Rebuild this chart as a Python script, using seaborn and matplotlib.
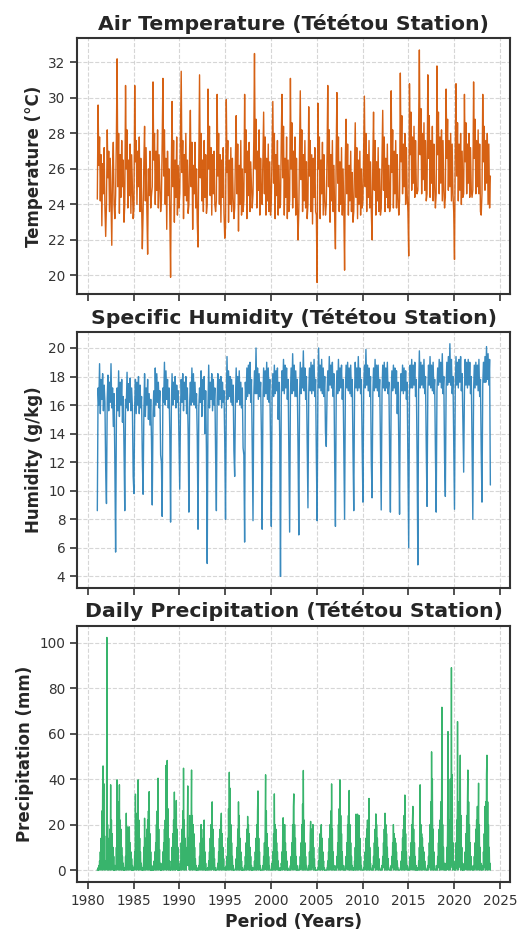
import matplotlib
matplotlib.use("Agg")
import matplotlib.pyplot as plt
import matplotlib.dates as mdates
from matplotlib.ticker import MultipleLocator
import seaborn as sns
import pandas as pd

# ---------------- data ----------------
first_year = 1981
n_years = 43

# Air temperature (°C), 12 values per year (Jan..Dec)
temp_c = [
    24.3, 29.6, 26.2, 27.8, 24.2, 26.8, 22.8, 26.3, 24.6, 27.2, 23.8, 22.2,
    24.0, 28.2, 25.5, 27.0, 23.6, 26.6, 24.2, 21.7, 26.0, 27.5, 24.0, 23.2,
    24.5, 27.8, 32.2, 25.0, 28.0, 23.5, 26.8, 24.4, 27.6, 25.0, 26.5, 23.0,
    24.0, 30.7, 26.0, 28.2, 23.8, 26.5, 24.5, 27.4, 23.5, 26.8, 25.0, 23.2,
    23.8, 30.7, 26.4, 27.6, 24.0, 27.0, 25.0, 27.8, 23.6, 26.6, 24.2, 21.5,
    23.5, 26.5, 28.4, 24.2, 27.2, 23.6, 21.2, 26.0, 24.5, 27.0, 23.8, 24.5,
    25.0, 30.9, 26.5, 28.0, 24.0, 27.0, 24.8, 28.2, 23.8, 26.8, 25.2, 23.6,
    24.2, 27.5, 31.1, 25.6, 28.2, 24.0, 26.6, 22.6, 27.0, 24.5, 26.0, 23.4,
    19.9, 26.0, 29.8, 25.0, 27.6, 23.0, 26.5, 24.4, 27.8, 23.4, 26.2, 23.8,
    24.6, 28.0, 31.5, 25.8, 27.6, 23.2, 26.8, 24.5, 28.0, 24.2, 26.5, 23.5,
    24.0, 27.2, 29.3, 25.0, 27.5, 22.6, 26.2, 24.6, 27.5, 23.8, 26.0, 23.0,
    21.6, 26.5, 31.3, 25.5, 28.0, 24.2, 26.5, 23.6, 27.6, 24.4, 26.8, 23.5,
    24.0, 30.5, 26.0, 28.4, 24.5, 27.2, 23.4, 26.8, 24.6, 27.0, 24.0, 23.6,
    24.2, 30.2, 25.6, 28.0, 24.0, 26.8, 23.0, 26.5, 24.4, 27.2, 23.5, 22.1,
    22.7, 29.9, 25.8, 27.6, 23.0, 26.5, 24.0, 27.2, 23.6, 26.6, 24.4, 23.2,
    23.8, 26.8, 29.0, 24.6, 27.4, 22.5, 26.2, 24.0, 27.6, 23.4, 26.0, 23.6,
    24.2, 30.2, 25.8, 28.2, 23.2, 27.0, 24.5, 27.5, 23.6, 26.4, 25.0, 23.8,
    24.6, 27.6, 32.5, 26.0, 28.8, 23.8, 27.0, 24.8, 28.2, 23.4, 26.6, 24.2,
    24.0, 26.8, 29.2, 24.6, 27.8, 23.4, 26.6, 24.2, 27.4, 23.6, 26.4, 23.4,
    24.2, 27.0, 29.8, 25.2, 28.0, 23.2, 26.8, 24.5, 27.6, 23.4, 26.2, 23.8,
    24.0, 27.6, 30.2, 25.5, 28.4, 23.4, 26.6, 24.4, 27.8, 23.2, 26.5, 23.6,
    24.2, 31.1, 26.0, 28.6, 23.8, 27.0, 24.4, 27.8, 23.4, 26.6, 24.0, 22.0,
    23.6, 27.0, 30.4, 25.4, 28.2, 23.6, 26.8, 24.2, 27.6, 23.8, 26.4, 23.2,
    24.0, 29.5, 25.6, 27.6, 23.6, 26.8, 22.9, 26.6, 24.4, 27.2, 23.6, 23.4,
    19.6, 29.7, 26.0, 27.8, 23.2, 26.5, 24.6, 27.5, 23.4, 26.8, 24.2, 23.4,
    24.0, 26.8, 30.7, 25.0, 28.2, 23.0, 26.8, 24.2, 27.6, 23.6, 26.2, 23.4,
    21.5, 27.0, 30.3, 25.2, 27.8, 23.6, 26.4, 24.0, 27.2, 23.4, 26.0, 23.6,
    20.3, 26.6, 28.8, 24.6, 27.4, 23.4, 26.2, 24.2, 27.0, 23.6, 25.8, 23.0,
    23.6, 26.4, 28.6, 24.4, 27.2, 23.2, 26.5, 24.0, 27.0, 23.4, 26.0, 23.8,
    24.2, 27.2, 30.1, 25.0, 28.0, 23.6, 26.8, 24.4, 27.6, 23.8, 26.4, 23.6,
    22.0, 26.6, 29.2, 24.8, 27.6, 23.4, 26.4, 24.2, 27.2, 23.6, 26.0, 23.4,
    23.8, 26.8, 29.3, 24.8, 27.8, 23.6, 26.6, 24.4, 27.4, 23.8, 26.2, 23.6,
    24.0, 30.4, 25.8, 28.2, 23.8, 27.0, 24.6, 27.6, 23.8, 26.8, 24.4, 23.4,
    24.2, 31.4, 26.4, 29.0, 24.6, 27.4, 25.0, 28.0, 24.0, 27.2, 24.6, 23.6,
    21.1, 30.8, 26.8, 29.2, 24.8, 27.8, 25.2, 28.4, 24.4, 27.6, 25.0, 24.6,
    24.8, 28.4, 32.7, 26.8, 29.4, 24.6, 28.0, 25.4, 28.6, 24.8, 27.6, 24.2,
    24.6, 31.3, 26.6, 29.0, 24.4, 27.6, 25.2, 28.4, 24.2, 27.4, 25.0, 23.8,
    24.6, 31.8, 26.8, 29.2, 24.6, 27.8, 25.2, 28.2, 24.2, 27.6, 24.8, 23.8,
    24.4, 30.5, 26.6, 28.8, 24.8, 27.6, 25.0, 28.0, 24.2, 27.4, 24.6, 23.6,
    20.9, 27.0, 30.8, 25.6, 28.6, 24.2, 27.4, 24.8, 28.0, 24.0, 27.0, 24.4,
    24.6, 30.2, 26.4, 28.6, 24.6, 27.4, 25.2, 28.0, 24.4, 27.2, 24.8, 24.4,
    24.8, 30.9, 26.6, 28.8, 24.6, 27.6, 25.0, 28.2, 24.6, 27.4, 23.6, 23.4,
    24.6, 30.2, 26.4, 28.4, 24.8, 27.6, 25.2, 28.0, 24.0, 27.4, 23.8, 25.6,
]

# Specific humidity (g/kg), 12 values per year (Jan..Dec)
humidity_gkg = [
    8.6, 17.2, 16.0, 18.9, 15.4, 17.8, 16.4, 18.2, 15.6, 17.4, 16.2, 11.5,
    9.1, 16.5, 18.1, 15.6, 17.6, 16.2, 18.9, 15.8, 17.2, 14.5, 16.8, 12.0,
    5.7, 15.0, 17.2, 15.6, 18.4, 15.2, 17.6, 16.0, 17.8, 14.8, 16.6, 13.0,
    8.6, 16.4, 15.8, 18.3, 15.6, 17.5, 16.2, 17.9, 15.6, 17.2, 15.8, 11.0,
    9.8, 16.0, 17.8, 15.4, 17.6, 16.0, 18.0, 15.4, 17.4, 15.8, 16.6, 12.2,
    9.75, 15.6, 18.2, 15.2, 17.2, 16.0, 17.8, 15.0, 16.8, 14.6, 16.4, 13.6,
    9.0, 15.4, 17.0, 15.2, 18.6, 16.0, 18.2, 16.2, 17.6, 15.8, 17.0, 12.5,
    12.0, 8.2, 17.2, 16.2, 19.0, 16.0, 18.4, 16.4, 17.8, 15.8, 17.2, 14.0,
    7.8, 16.0, 18.2, 16.0, 17.6, 16.4, 18.0, 15.8, 17.4, 16.2, 17.0, 13.5,
    10.1, 15.8, 17.8, 16.2, 18.2, 15.6, 17.6, 16.4, 18.0, 15.4, 17.2, 14.2,
    8.5, 16.2, 17.6, 16.0, 18.6, 16.2, 18.2, 16.0, 17.6, 15.8, 16.8, 13.8,
    7.3, 15.8, 17.2, 16.2, 18.4, 15.2, 17.8, 16.4, 18.0, 14.0, 17.0, 12.8,
    4.9, 16.0, 18.8, 15.8, 17.6, 16.4, 18.2, 15.6, 17.8, 16.0, 17.2, 12.6,
    8.6, 16.4, 18.2, 16.0, 17.8, 16.4, 18.0, 15.8, 17.6, 16.2, 17.0, 13.4,
    8.0, 16.2, 19.4, 16.4, 18.4, 16.6, 18.0, 16.2, 17.8, 16.0, 17.4, 12.8,
    11.0, 16.4, 18.6, 16.2, 18.0, 16.4, 18.4, 16.0, 17.6, 15.8, 17.2, 13.0,
    12.5, 6.4, 17.6, 16.4, 18.6, 16.6, 18.8, 16.8, 19.0, 16.2, 17.8, 13.2,
    7.9, 16.6, 18.4, 16.8, 20.0, 16.8, 18.6, 16.4, 18.2, 16.6, 17.6, 14.0,
    7.3, 16.4, 18.6, 16.6, 18.4, 16.8, 19.0, 16.4, 18.6, 16.2, 17.8, 13.4,
    7.5, 16.8, 18.2, 16.6, 18.8, 16.8, 18.4, 17.0, 18.6, 15.0, 17.6, 13.8,
    4.0, 16.6, 18.4, 17.0, 19.2, 16.8, 18.8, 17.2, 18.6, 16.4, 17.8, 12.6,
    7.1, 16.8, 18.6, 16.8, 19.6, 17.0, 18.8, 16.6, 18.4, 16.6, 17.8, 13.0,
    6.9, 16.6, 19.0, 16.8, 18.6, 17.2, 19.8, 17.0, 18.6, 16.4, 18.0, 13.6,
    8.8, 16.8, 18.6, 17.0, 19.0, 16.8, 18.8, 17.0, 19.2, 16.6, 17.8, 12.4,
    7.9, 17.0, 20.0, 17.2, 18.8, 17.0, 19.2, 16.8, 18.6, 16.6, 18.0, 14.0,
    13.1, 16.8, 18.4, 17.0, 19.4, 17.4, 18.8, 17.2, 19.0, 16.6, 18.2, 12.2,
    7.5, 16.6, 18.4, 16.8, 19.2, 17.0, 18.6, 17.2, 18.8, 16.4, 17.8, 13.0,
    8.0, 17.0, 18.8, 17.2, 19.0, 17.0, 18.6, 16.8, 18.8, 16.6, 17.8, 12.8,
    8.6, 16.8, 19.0, 17.2, 18.6, 17.0, 19.4, 17.2, 18.6, 16.8, 17.8, 13.2,
    9.2, 17.0, 18.8, 17.2, 19.9, 17.4, 18.8, 17.0, 18.6, 16.6, 18.0, 12.0,
    9.5, 16.8, 18.6, 17.0, 19.2, 17.2, 18.8, 17.0, 18.8, 16.6, 17.8, 13.6,
    8.65, 16.8, 18.8, 17.2, 19.0, 17.0, 18.6, 17.2, 19.0, 16.8, 17.6, 12.6,
    8.5, 16.8, 18.4, 17.0, 18.8, 17.2, 18.6, 16.8, 18.4, 15.4, 17.6, 13.4,
    8.35, 16.6, 18.2, 17.0, 18.8, 16.8, 18.6, 17.0, 18.4, 16.4, 17.6, 11.6,
    6.0, 16.8, 18.8, 17.2, 19.2, 17.2, 18.8, 17.4, 19.0, 16.6, 17.8, 12.4,
    4.8, 17.0, 19.8, 17.2, 19.0, 17.4, 18.8, 17.2, 19.2, 16.8, 18.0, 13.0,
    8.9, 17.0, 18.8, 17.4, 19.4, 17.2, 18.8, 17.0, 19.0, 16.8, 17.8, 12.8,
    8.5, 17.0, 18.6, 17.4, 19.2, 17.6, 19.0, 17.2, 19.6, 16.8, 18.0, 12.2,
    9.6, 17.2, 19.0, 17.4, 19.4, 17.6, 20.3, 17.4, 19.2, 16.8, 18.0, 13.4,
    8.7, 17.2, 19.4, 17.4, 19.0, 17.2, 19.2, 17.6, 19.4, 17.0, 18.2, 14.6,
    11.3, 17.0, 19.2, 17.4, 19.0, 17.2, 19.2, 17.4, 19.0, 16.8, 18.0, 13.2,
    8.0, 17.0, 18.8, 17.2, 19.0, 17.4, 18.8, 17.0, 19.2, 16.6, 17.8, 12.8,
    9.2, 17.4, 19.0, 17.6, 19.4, 17.6, 20.1, 17.8, 19.6, 17.4, 19.2, 10.4,
]

# Daily precipitation (mm), 24 values per year (half-months)
precip_mm = [
    0, 0, 0, 1, 0, 2, 0, 4, 1, 8, 0, 14, 2, 26, 0, 35, 45.8, 3, 38, 0, 15, 1, 4, 0,
    2, 4, 102.3, 0, 20, 1, 12, 0, 14, 2, 18, 0, 37.5, 1, 22, 0, 16, 2, 10, 0, 6, 0, 2, 0,
    0, 2, 1, 10, 0, 39.7, 1, 24, 0, 30, 2, 37.5, 0, 22, 1, 18, 0, 10, 2, 6, 0, 3, 0, 1,
    0, 1, 0, 6, 1, 25, 0, 12, 2, 19, 0, 17, 1, 19, 0, 12, 2, 8, 0, 5, 0, 2, 0, 1,
    0, 1, 2, 8, 0, 33.4, 1, 20, 0, 25, 2, 18, 39.7, 0, 22, 1, 14, 0, 8, 2, 3, 0, 1, 0,
    1, 0, 3, 10, 0, 22.8, 1, 14, 0, 12, 2, 18, 0, 22, 1, 26, 0, 34.5, 2, 16, 0, 8, 0, 2,
    0, 0, 1, 0, 2, 0, 4, 1, 8, 0, 12, 2, 20, 0, 26, 1, 40.4, 0, 18, 2, 9, 0, 3, 0,
    0, 1, 0, 3, 1, 8, 0, 12, 2, 18, 0, 22, 1, 46, 0, 30, 48.2, 2, 27, 0, 14, 1, 4, 0,
    0, 1, 0, 4, 1, 10, 0, 16, 2, 22, 0, 34.3, 1, 20, 0, 16, 30.6, 2, 18, 0, 10, 0, 3, 0,
    0, 1, 0, 4, 1, 12, 0, 18, 2, 26, 0, 44.8, 1, 22, 0, 14, 2, 10, 0, 8, 2, 18, 37, 6,
    2, 14, 0, 24, 1, 22, 0, 18, 44, 2, 24, 0, 20, 1, 16, 0, 10, 2, 5, 0, 2, 0, 1, 0,
    0, 0, 1, 2, 0, 6, 1, 12, 0, 20, 2, 14, 0, 10, 1, 18, 0, 22, 2, 8, 0, 3, 0, 0,
    0, 0, 1, 1, 0, 4, 1, 8, 0, 14, 2, 20, 0, 24, 30, 1, 18, 0, 10, 2, 5, 0, 1, 0,
    0, 0, 0, 1, 1, 3, 0, 8, 2, 14, 0, 18, 1, 20, 25, 0, 16, 2, 10, 0, 5, 1, 1, 0,
    0, 0, 1, 2, 0, 6, 2, 14, 0, 27, 1, 43, 0, 36, 2, 20, 0, 12, 1, 6, 0, 2, 0, 0,
    0, 0, 0, 1, 1, 5, 0, 10, 2, 18, 0, 30, 1, 24, 0, 14, 2, 8, 0, 4, 0, 1, 0, 0,
    0, 0, 1, 2, 0, 6, 1, 12, 0, 18, 2, 23.6, 0, 20, 1, 16, 0, 10, 2, 6, 0, 2, 0, 1,
    0, 0, 0, 1, 1, 4, 0, 8, 2, 14, 0, 20, 1, 26, 34.8, 0, 14, 2, 8, 0, 2, 0, 0, 0,
    0, 0, 1, 2, 0, 6, 2, 12, 0, 20, 41.9, 1, 26, 0, 16, 2, 10, 0, 6, 1, 2, 0, 0, 0,
    0, 0, 1, 3, 0, 8, 2, 16, 0, 33.5, 1, 20, 0, 18, 2, 12, 0, 8, 1, 4, 0, 1, 0, 0,
    0, 1, 0, 3, 2, 8, 0, 18, 23, 1, 16, 0, 20, 2, 12, 0, 8, 1, 4, 0, 1, 0, 0, 0,
    0, 0, 1, 2, 0, 6, 1, 12, 2, 20, 0, 28, 33.5, 1, 20, 0, 14, 2, 6, 0, 2, 0, 0, 0,
    0, 0, 1, 2, 0, 6, 1, 12, 2, 20, 0, 29, 1, 43.8, 0, 22, 2, 12, 0, 6, 1, 2, 0, 0,
    0, 0, 1, 2, 0, 8, 2, 16, 21.4, 0, 18, 1, 14, 2, 20, 0, 10, 1, 5, 0, 1, 0, 0, 0,
    0, 0, 0, 1, 1, 4, 0, 10, 2, 16, 0, 18, 20, 1, 14, 0, 8, 2, 4, 0, 1, 0, 0, 0,
    0, 0, 0, 1, 1, 4, 0, 8, 2, 14, 0, 20, 1, 26, 0, 37.9, 2, 18, 0, 8, 1, 2, 0, 0,
    0, 0, 1, 2, 0, 6, 1, 12, 2, 20, 0, 27, 1, 39.7, 0, 24, 2, 16, 0, 8, 1, 2, 0, 0,
    0, 0, 1, 2, 0, 6, 1, 12, 2, 20, 0, 24, 1, 35, 0, 20, 2, 12, 0, 6, 1, 2, 0, 0,
    0, 1, 0, 4, 2, 10, 0, 24.6, 1, 16, 0, 24.6, 2, 20, 0, 24, 1, 14, 0, 6, 1, 2, 0, 0,
    0, 0, 0, 1, 1, 4, 0, 8, 2, 14, 0, 18, 1, 22, 0, 20, 2, 31.5, 0, 10, 1, 3, 0, 0,
    0, 0, 1, 2, 0, 6, 1, 12, 2, 18, 0, 24.7, 1, 20, 0, 14, 2, 10, 0, 5, 1, 1, 0, 0,
    0, 0, 1, 2, 0, 6, 1, 12, 2, 18, 0, 25, 1, 20, 0, 16, 2, 10, 0, 5, 1, 1, 0, 0,
    0, 0, 1, 2, 0, 6, 1, 12, 2, 20, 0, 16, 1, 14, 0, 12, 2, 8, 0, 4, 1, 1, 0, 0,
    0, 0, 0, 1, 1, 4, 0, 8, 2, 14, 0, 18, 1, 24, 0, 33, 2, 16, 0, 8, 1, 2, 0, 0,
    0, 0, 1, 2, 0, 6, 1, 12, 2, 20, 0, 22, 28, 1, 18, 0, 12, 2, 6, 0, 2, 0, 0, 0,
    0, 1, 0, 4, 2, 10, 0, 37.5, 1, 20, 0, 16, 2, 14, 0, 10, 1, 8, 0, 4, 1, 1, 0, 0,
    0, 0, 1, 2, 0, 6, 1, 12, 2, 20, 0, 30, 1, 52, 0, 40, 2, 18, 0, 8, 1, 2, 0, 0,
    0, 0, 1, 2, 0, 6, 1, 12, 2, 18, 0, 22, 1, 30, 0, 20, 71.6, 2, 20, 0, 10, 1, 3, 0,
    0, 0, 2, 3, 0, 10, 1, 20, 60.9, 0, 22, 2, 18, 0, 40, 1, 20, 89, 2, 42, 0, 12, 1, 2,
    0, 0, 2, 4, 0, 12, 1, 22, 2, 65.3, 0, 30, 1, 20, 2, 24, 50.5, 0, 24, 2, 10, 0, 3, 0,
    0, 0, 1, 3, 0, 8, 1, 16, 2, 24, 0, 30, 44, 1, 30, 0, 20, 2, 12, 0, 6, 1, 2, 0,
    0, 0, 1, 2, 0, 6, 1, 12, 2, 18, 0, 22, 1, 28, 0, 20, 38.2, 2, 20, 0, 10, 1, 3, 0,
    0, 0, 1, 2, 0, 8, 1, 16, 2, 28, 0, 30, 1, 42, 50.5, 0, 30, 2, 20, 0, 10, 1, 3, 0,
]

station = "Tététou Station"
titles = [f"Air Temperature ({station})",
          f"Specific Humidity ({station})",
          f"Daily Precipitation ({station})"]
ylabels = ["Temperature (°C)", "Humidity (g/kg)", "Precipitation (mm)"]
colors = ["#d35400", "#2980b9", "#27ae60"]
y_steps = [2, 2, 20]

# ---------------- figure ----------------
sns.set_theme(style="ticks")
plt.rcParams["font.family"] = ["DejaVu Sans"]

monthly_dates = pd.date_range(f"{first_year}-01-01", periods=n_years * 12, freq="MS") + pd.Timedelta(days=14)
half_month_dates = pd.date_range(f"{first_year}-01-01", periods=n_years * 24, freq="SMS")

series = [
    pd.DataFrame({"date": monthly_dates, "value": temp_c}),
    pd.DataFrame({"date": monthly_dates, "value": humidity_gkg}),
    pd.DataFrame({"date": half_month_dates, "value": precip_mm}),
]

fig, axes = plt.subplots(3, 1, figsize=(5.17, 9.35), dpi=100, sharex=True)
fig.subplots_adjust(left=0.1495, right=0.9865, top=0.959, bottom=0.057, hspace=0.148)

for ax, df, title, ylab, col, step in zip(axes, series, titles, ylabels, colors, y_steps):
    sns.lineplot(data=df, x="date", y="value", ax=ax, color=col,
                 linewidth=1.0, alpha=0.92)
    ax.set_title(title, fontsize=14.7, fontweight="bold", pad=6)
    ax.set_ylabel(ylab, fontsize=12, fontweight="bold")
    ax.set_xlabel("")
    ax.yaxis.set_major_locator(MultipleLocator(step))
    ax.grid(True, linestyle="--", color="#cccccc", linewidth=0.8, alpha=0.8)
    ax.set_axisbelow(True)
    for sp in ax.spines.values():
        sp.set_color("#333333")
        sp.set_linewidth(1.5)
    ax.tick_params(axis="both", labelsize=9.8, colors="#333333",
                   length=5, width=1.2, direction="out")
    ax.tick_params(axis="x", labelbottom=False)

axes[2].tick_params(axis="x", labelbottom=True)
axes[2].xaxis.set_major_locator(mdates.YearLocator(5))
axes[2].xaxis.set_major_formatter(mdates.DateFormatter("%Y"))
axes[2].set_xlabel("Period (Years)", fontsize=12.3, fontweight="bold")

fig.savefig("out.png", dpi=100)
